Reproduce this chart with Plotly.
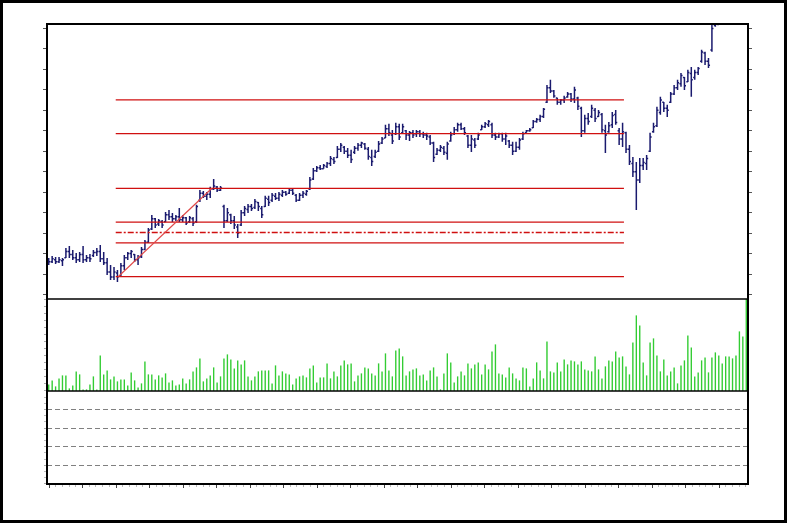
import numpy as np
import plotly.graph_objects as go

# ---------------- data ----------------
opens = [22.50,22.60,22.70,22.60,22.65,22.80,23.10,22.95,22.80,22.70,22.95,22.70,22.80,22.90,23.05,23.10,22.75,22.55,22.10,21.85,
         22.05,21.90,22.40,22.80,23.00,22.95,22.70,22.85,23.20,23.55,24.20,24.70,24.45,24.55,24.55,24.90,24.80,24.70,24.80,24.65,
         24.75,24.55,24.70,24.55,25.60,25.95,25.80,25.90,26.15,26.25,26.10,25.30,24.60,24.90,24.60,24.30,24.40,25.00,25.15,25.30,
         25.25,25.50,25.20,25.30,25.65,25.60,25.80,25.70,25.85,26.00,25.95,26.10,25.85,25.60,25.85,25.90,26.15,26.65,27.05,27.20,
         27.15,27.25,27.40,27.60,27.70,28.10,28.20,28.00,27.80,27.95,28.15,28.30,28.35,28.10,27.70,27.75,28.00,28.40,28.65,29.10,
         28.80,28.85,29.20,28.90,29.00,28.80,28.90,28.85,28.95,28.85,28.80,28.70,28.40,27.85,28.05,28.15,27.90,28.50,28.85,29.05,
         29.30,29.10,28.75,28.30,28.55,28.60,29.05,29.20,29.30,29.30,28.80,28.70,28.85,28.60,28.50,28.30,28.00,28.20,28.60,28.90,
         29.00,29.15,29.45,29.55,29.70,30.40,31.10,30.95,30.60,30.40,30.50,30.65,30.80,30.55,30.60,30.10,29.00,29.60,29.70,30.00,
         29.70,29.80,29.00,28.95,29.30,29.80,29.00,28.60,28.90,28.10,27.40,27.00,26.60,27.30,27.40,28.00,28.95,29.25,29.90,30.40,
         30.10,30.40,30.80,31.10,31.30,31.60,31.40,31.80,31.60,31.85,32.40,32.80,32.40,32.95,34.15,34.20,34.30,34.60,34.70,35.00,
         35.20,35.05,35.50,35.80]
highs = [22.78,22.88,22.83,22.83,22.78,23.27,23.37,23.17,23.03,23.08,23.37,22.93,22.98,23.17,23.27,23.42,23.08,22.78,22.44,22.34,
         22.20,22.54,22.93,23.08,23.17,22.98,22.93,23.32,23.66,24.25,24.89,24.74,24.69,24.64,25.03,25.13,24.98,24.89,25.23,24.89,
         24.79,24.84,24.79,25.38,26.11,26.06,26.01,26.26,26.65,26.30,26.30,25.38,25.23,24.94,24.84,24.45,25.13,25.33,25.42,25.42,
         25.67,25.52,25.33,25.82,25.82,25.96,25.96,26.01,26.11,26.06,26.21,26.16,25.91,25.96,26.06,26.11,26.74,27.18,27.28,27.33,
         27.38,27.48,27.77,27.72,28.26,28.41,28.26,28.16,28.07,28.26,28.41,28.46,28.41,28.21,28.07,28.07,28.50,28.70,29.29,29.34,
         29.04,29.39,29.34,29.34,29.04,28.99,29.04,29.04,29.04,28.95,28.90,28.80,28.46,28.16,28.31,28.26,28.46,28.95,29.19,29.39,
         29.39,29.19,28.80,28.80,28.65,28.90,29.29,29.43,29.53,29.39,28.90,28.90,28.90,28.90,28.55,28.46,28.46,28.65,28.95,29.04,
         29.14,29.53,29.63,29.78,30.12,31.24,31.49,31.00,30.61,30.56,30.71,30.90,30.85,31.15,30.66,30.17,29.78,29.87,30.27,30.12,
         30.02,29.87,29.29,29.43,29.92,30.02,29.14,29.39,28.95,28.31,27.72,27.48,27.67,27.67,27.82,28.90,29.39,30.17,30.66,30.41,
         30.27,30.90,31.24,31.49,31.83,31.63,31.98,32.12,31.98,32.12,32.96,32.86,32.56,34.18,34.32,34.40,34.75,34.90,35.10,35.30,
         35.40,35.60,35.90,36.40]
lows = [22.44,22.54,22.49,22.54,22.39,22.78,22.78,22.69,22.54,22.59,22.54,22.59,22.59,22.83,22.88,22.59,22.44,21.95,21.71,21.71,
        21.61,21.85,22.20,22.69,22.78,22.59,22.44,22.78,23.17,23.52,24.15,24.25,24.35,24.25,24.54,24.64,24.54,24.59,24.54,24.54,
        24.40,24.50,24.35,24.50,25.52,25.72,25.62,25.72,26.11,26.01,26.06,24.25,24.54,24.45,24.20,23.76,24.35,24.84,24.98,25.08,
        25.18,25.08,24.74,25.28,25.33,25.52,25.62,25.57,25.77,25.82,25.91,25.86,25.52,25.57,25.72,25.82,26.11,26.60,26.99,27.09,
        27.14,27.18,27.28,27.38,27.67,27.97,27.87,27.67,27.43,27.87,28.02,28.16,28.07,27.58,27.28,27.67,27.97,28.36,28.65,28.75,
        28.36,28.80,28.55,28.85,28.55,28.50,28.65,28.70,28.70,28.65,28.55,28.31,27.48,27.82,27.97,27.82,27.58,28.46,28.80,28.95,
        29.04,28.80,28.16,27.97,28.16,28.55,29.04,29.14,29.19,28.65,28.55,28.65,28.46,28.31,28.16,27.82,27.97,28.07,28.55,28.90,
        28.95,29.14,29.39,29.43,29.63,30.36,30.85,30.61,30.27,30.27,30.36,30.61,30.41,30.36,30.02,28.70,28.90,29.29,29.63,29.43,
        29.68,28.90,27.92,28.90,29.14,29.29,28.31,28.21,27.92,27.33,26.74,25.13,26.45,27.09,27.09,27.97,28.90,29.19,29.78,29.92,
        29.68,30.36,30.75,31.00,31.15,31.00,31.39,30.66,31.49,31.73,32.32,32.22,32.07,32.86,34.08,34.18,34.30,34.45,34.60,34.85,
        34.90,35.00,35.30,35.70]
closes = [22.60,22.75,22.60,22.70,22.70,23.10,22.95,22.80,22.70,22.95,22.70,22.80,22.75,23.05,23.10,22.75,22.55,22.10,21.85,22.10,
          21.87,22.40,22.80,23.00,23.10,22.70,22.80,23.20,23.55,24.15,24.70,24.40,24.60,24.40,24.90,24.80,24.70,24.80,24.65,24.75,
          24.50,24.75,24.50,25.30,25.95,25.80,25.90,26.15,26.30,26.10,26.20,24.60,25.00,24.60,24.40,24.00,25.00,25.20,25.30,25.20,
          25.55,25.30,24.90,25.70,25.50,25.85,25.70,25.90,26.00,25.90,26.10,25.95,25.60,25.85,25.95,26.05,26.60,27.05,27.20,27.15,
          27.30,27.40,27.65,27.50,28.10,28.30,28.00,27.80,27.60,28.15,28.30,28.40,28.15,27.75,27.50,27.95,28.35,28.60,29.10,28.90,
          28.50,29.20,28.70,29.20,28.80,28.90,28.80,28.95,28.85,28.80,28.75,28.40,27.70,28.05,28.20,27.95,28.35,28.80,29.05,29.30,
          29.10,28.90,28.30,28.60,28.30,28.80,29.20,29.35,29.45,28.80,28.70,28.85,28.60,28.75,28.30,28.00,28.20,28.55,28.85,29.00,
          29.05,29.45,29.55,29.70,30.05,31.10,30.95,30.70,30.40,30.50,30.60,30.80,30.55,31.00,30.20,29.00,29.60,29.45,30.10,29.60,
          29.90,29.05,28.80,29.25,29.75,29.40,28.60,28.95,28.10,27.50,27.00,26.60,27.30,27.45,27.65,28.70,29.20,30.00,30.50,30.10,
          30.00,30.80,31.10,31.35,31.70,31.20,31.85,31.50,31.85,32.05,32.85,32.40,32.20,34.00,34.25,34.30,34.60,34.70,35.00,35.20,
          35.00,35.50,35.80,36.30]
volume = [60,100,40,120,150,150,20,50,190,160,10,10,60,140,10,350,160,200,110,140,
          90,110,110,50,180,100,30,70,290,160,160,110,150,130,170,80,100,50,60,120,
          70,110,190,230,320,90,120,150,230,80,140,320,360,310,220,300,260,300,140,100,
          140,190,200,200,200,70,250,150,190,170,
          160,60,120,140,150,130,220,250,80,130,130,270,120,190,140,250,300,260,270,90,
          150,170,230,220,170,150,270,190,370,200,140,400,420,340,150,190,210,220,150,160,
          100,200,230,140,10,170,370,280,80,140,190,150,270,220,260,280,160,260,210,390,
          460,170,160,130,230,170,120,
          100,230,220,40,120,280,200,120,490,190,180,280,190,310,260,300,290,260,290,210,
          200,190,340,210,120,240,300,290,390,330,340,240,160,480,750,650,280,150,480,520,
          350,190,310,150,190,230,70,250,300,550,430,140,180,300,330,180,330,380,350,270,
          340,340,320,350,590,540,1030]

# Fibonacci tool (drawn on the chart)
fib_low = 21.87
fib_high = 26.19
fib_levels = [0.0, 0.382, 0.5, 0.618, 1.0, 1.618, 2.0]
fib_start_bar = 19.5
fib_end_bar = 167.4
trend_start_bar = 20.2
trend_end_bar = 47.5

bars = np.arange(len(closes))

NAVY = "#1a1a6e"
RED = "#d01010"
GREEN = "#33cc33"

fig = go.Figure()

fig.add_trace(go.Ohlc(
    x=bars, open=opens, high=highs, low=lows, close=closes,
    increasing=dict(line=dict(color=NAVY, width=1.5)),
    decreasing=dict(line=dict(color=NAVY, width=1.5)),
    tickwidth=0.45, xaxis="x", yaxis="y", showlegend=False, hoverinfo="skip"))

fig.add_trace(go.Bar(
    x=bars, y=volume, width=0.05, marker=dict(color=GREEN, line=dict(width=1.2, color=GREEN)),
    xaxis="x", yaxis="y2", showlegend=False, hoverinfo="skip"))

# invisible trace for the empty indicator pane
fig.add_trace(go.Scatter(x=[bars[0]], y=[50], mode="markers", marker=dict(opacity=0),
                         xaxis="x", yaxis="y3", showlegend=False, hoverinfo="skip"))

shapes = []
rng = fib_high - fib_low
for lv in fib_levels:
    yv = fib_low + lv * rng
    shapes.append(dict(type="line", xref="x", yref="y", x0=fib_start_bar, x1=fib_end_bar,
                       y0=yv, y1=yv,
                       line=dict(color=RED, width=1.3,
                                 dash="6px,2px,2px,2px" if lv == 0.5 else "solid")))
shapes.append(dict(type="line", xref="x", yref="y", x0=trend_start_bar, x1=trend_end_bar,
                   y0=fib_low, y1=fib_high, line=dict(color="#e04848", width=1.2)))

# pane borders
D1, D2 = 0.2022, 0.4022
shapes.append(dict(type="rect", xref="paper", yref="paper", x0=0, x1=1, y0=0, y1=1,
                   line=dict(color="black", width=2)))
for d in (D1, D2):
    shapes.append(dict(type="line", xref="paper", yref="paper", x0=0, x1=1, y0=d, y1=d,
                       line=dict(color="black", width=1.6)))
# outer window frame
shapes.append(dict(type="rect", xref="paper", yref="paper",
                   x0=(1.5 - 47) / 701, x1=(785.5 - 47) / 701,
                   y0=(484 - 521.5) / 460, y1=(484 - 1.5) / 460,
                   line=dict(color="black", width=3)))

fig.update_layout(
    width=787, height=523,
    margin=dict(l=47, r=39, t=24, b=39, autoexpand=False),
    paper_bgcolor="white", plot_bgcolor="white",
    shapes=shapes,
    bargap=0,
    xaxis=dict(domain=[0, 1], range=[-0.5, 203.5], anchor="y3",
               rangeslider=dict(visible=False),
               showgrid=False, zeroline=False, showline=False,
               showticklabels=False, ticks="outside", ticklen=3, tickcolor="#444",
               tick0=0.1, dtick=9.75,
               minor=dict(ticks="outside", ticklen=2, tickcolor="#bbb", dtick=1.95, tick0=0.1, showgrid=False)),
    yaxis=dict(domain=[D2, 1], range=[20.78, 34.22], anchor="x",
               showgrid=False, zeroline=False, showline=False, showticklabels=False,
               ticks="outside", ticklen=3, tickcolor="#555", tick0=0, dtick=1,
               mirror="ticks"),
    yaxis2=dict(domain=[D1, D2], range=[0, 920], anchor="x",
                showgrid=False, zeroline=False, showline=False, showticklabels=False,
                ticks="outside", ticklen=2, tickcolor="#aaa", tick0=0, dtick=70),
    yaxis3=dict(domain=[0, D1], range=[0, 100], anchor="x",
                showgrid=True, gridcolor="#808080", gridwidth=1, griddash="5px,3px",
                zeroline=False, showline=False, showticklabels=False,
                ticks="outside", ticklen=2, tickcolor="#aaa", tick0=0, dtick=20,
                minor=dict(ticks="outside", ticklen=2, tickcolor="#bbb", dtick=20 / 3, showgrid=False)),
    hovermode=False,
)

fig.write_html("out.html", config={"displayModeBar": False, "staticPlot": True},
               post_script="document.body.style.margin='0';")
